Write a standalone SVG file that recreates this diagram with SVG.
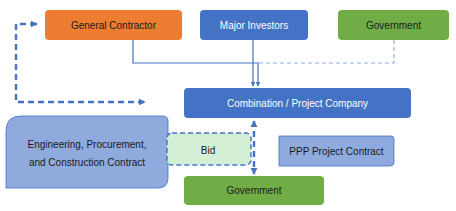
<svg xmlns="http://www.w3.org/2000/svg" width="456" height="211" viewBox="0 0 456 211">
<defs>
<style>
text{font-family:"Liberation Sans",Arial,sans-serif;font-size:10px;text-anchor:middle;dominant-baseline:central;fill:#1a1a1a}
.w{fill:#ffffff}
.orange{fill:#ED7D31}
.blue{fill:#4472C4}
.green{fill:#70AD47}
.lblue{fill:#8FAADC;stroke:#4472C4;stroke-width:0.8}
.conn{fill:none;stroke:#4472C4;stroke-width:1.2}
.dconn{fill:none;stroke:#4472C4;stroke-width:2.4;stroke-dasharray:6,4}
.gdash{fill:none;stroke:#8FAADC;stroke-width:1.2;stroke-dasharray:4,3}
</style>
<marker id="ah" viewBox="0 0 10 10" refX="9" refY="5" markerWidth="4" markerHeight="4" orient="auto-start-reverse"><path d="M0,0 L10,5 L0,10 z" fill="#4472C4"/></marker>
<marker id="ah2" viewBox="0 0 10 10" refX="9" refY="5" markerWidth="3" markerHeight="3" orient="auto-start-reverse"><path d="M0,0 L10,5 L0,10 z" fill="#4472C4"/></marker>
</defs>
<g id="connectors">
<path class="conn" d="M133,40 V63 H258 V86" marker-end="url(#ah)"/>
<path class="conn" d="M253,40 V86" marker-end="url(#ah)"/>
<path class="gdash" d="M394,40 V63 H259"/>
<path class="dconn" d="M36,24 H16 V102 H145" marker-end="url(#ah2)"/>
<path class="dconn" d="M36,24 H37" marker-end="url(#ah2)"/>
<path class="dconn" d="M254,121 V174" marker-start="url(#ah2)" marker-end="url(#ah2)"/>
</g>
<g id="general-contractor">
<rect class="orange" x="45" y="10" width="137" height="30" rx="4"/>
<text x="113.5" y="25">General Contractor</text>
</g>
<g id="major-investors">
<rect class="blue" x="200" y="10" width="108" height="30" rx="4"/>
<text class="w" x="254" y="25">Major Investors</text>
</g>
<g id="government-top">
<rect class="green" x="338" y="10" width="111" height="30" rx="4"/>
<text x="393.5" y="25">Government</text>
</g>
<g id="project-company">
<rect class="blue" x="184" y="88" width="227" height="30" rx="4"/>
<text class="w" x="297.5" y="103">Combination / Project Company</text>
</g>
<g id="epc-contract">
<path class="lblue" d="M21,116 H163 Q168,116 168,121 V178 Q168,188 158,188 H6 V131 Q6,116 21,116 Z"/>
<text x="87" y="144">Engineering, Procurement,</text>
<text x="87" y="162">and Construction Contract</text>
</g>
<g id="bid">
<rect x="167" y="133" width="84" height="32" rx="5" fill="#D3F0D7" stroke="#4472C4" stroke-width="1.4" stroke-dasharray="5,3"/>
<text x="208" y="150">Bid</text>
</g>
<g id="ppp-contract">
<path class="lblue" d="M279,136 H391 Q394,136 394,139 V162 Q394,166 390,166 H279 Z"/>
<text x="336.5" y="151">PPP Project Contract</text>
</g>
<g id="government-bottom">
<rect class="green" x="184" y="176" width="140" height="29" rx="4"/>
<text x="254" y="190.5">Government</text>
</g>
</svg>
